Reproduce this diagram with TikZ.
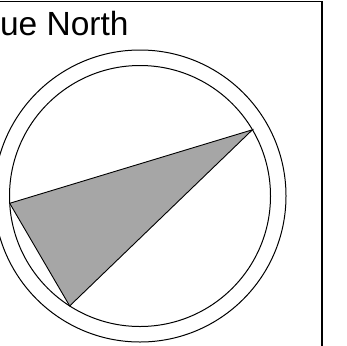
\documentclass[tikz,border=0pt]{standalone}
\usepackage{fontspec}
\setmainfont{Liberation Sans}
\begin{document}
\begin{tikzpicture}[x=1pt,y=-1pt,
  ring/.style={draw=black,line width=1pt},
  wedge/.style={draw=black,line width=0.9pt,fill={rgb,255:red,166;green,166;blue,166},line join=miter},
  frame/.style={draw=black,line width=1.3pt},
  title/.style={anchor=base west,inner sep=0pt,font=\fontsize{33.5}{40}\selectfont}]
\useasboundingbox (0,0) rectangle (347,345);
\clip (0,0) rectangle (347,345);
\fill[white] (0,0) rectangle (347,345);
\draw[frame] (-60,1.2) rectangle (322,420);
\node[title] (t) at (-30.5,35.5) {True North};
\coordinate (c) at (140,196);
\draw[ring] (c) circle[radius=146];
\draw[ring] (c) circle[radius=130.5];
\path (c) ++(-30.5:130.5) coordinate (a)
      (c) ++(-183.2:130.5) coordinate (b)
      (c) ++(-237.4:130.5) coordinate (d);
\draw[wedge] (a) -- (b) -- (d) -- cycle;
\end{tikzpicture}
\end{document}
